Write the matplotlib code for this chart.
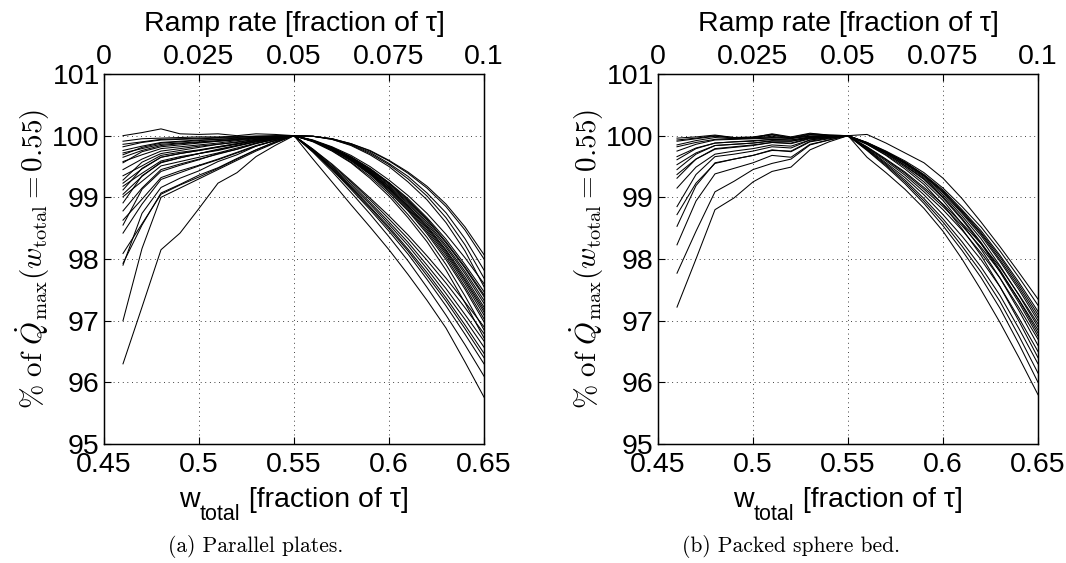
import matplotlib
matplotlib.use('Agg')
import matplotlib.pyplot as plt

plt.rcParams['font.family'] = ['Liberation Sans', 'DejaVu Sans']
plt.rcParams['mathtext.fontset'] = 'cm'

# x positions (w_total, fraction of tau)
w_total = [0.46, 0.47, 0.48, 0.49, 0.50, 0.51, 0.52, 0.53, 0.54, 0.55,
           0.56, 0.57, 0.58, 0.59, 0.60, 0.61, 0.62, 0.63, 0.64, 0.65]

# (a) parallel plates, % of Qmax(w_total = 0.55)
plates = [
    [100.0, 100.05, 100.11, 100.03, 100.02, 100.03, 100.0, 100.03, 100.02, 100.0,
     99.99, 99.95, 99.87, 99.76, 99.60, 99.41, 99.18, 98.89, 98.52, 98.07],
    [99.91, 99.95, 99.96, 99.97, 99.98, 99.98, 99.99, 99.99, 100.0, 100.0,
     99.99, 99.95, 99.87, 99.75, 99.59, 99.39, 99.15, 98.85, 98.47, 98.0],
    [99.86, 99.90, 99.94, 99.95, 99.96, 99.97, 99.98, 99.99, 99.99, 100.0,
     99.99, 99.95, 99.86, 99.73, 99.55, 99.34, 99.07, 98.75, 98.33, 97.82],
    [99.82, 99.89, 99.93, 99.94, 99.95, 99.96, 99.97, 99.99, 99.99, 100.0,
     99.99, 99.94, 99.85, 99.71, 99.53, 99.30, 99.02, 98.67, 98.23, 97.69],
    [99.76, 99.83, 99.89, 99.91, 99.93, 99.94, 99.96, 99.97, 99.99, 100.0,
     99.93, 99.82, 99.68, 99.50, 99.28, 99.03, 98.74, 98.40, 98.02, 97.6],
    [99.72, 99.79, 99.86, 99.88, 99.90, 99.92, 99.94, 99.97, 99.98, 100.0,
     99.99, 99.94, 99.84, 99.69, 99.50, 99.25, 98.96, 98.59, 98.13, 97.55],
    [99.69, 99.81, 99.88, 99.90, 99.92, 99.94, 99.95, 99.98, 99.99, 100.0,
     99.92, 99.81, 99.66, 99.47, 99.24, 98.98, 98.67, 98.32, 97.91, 97.47],
    [99.65, 99.76, 99.84, 99.87, 99.89, 99.91, 99.94, 99.96, 99.98, 100.0,
     99.92, 99.81, 99.65, 99.46, 99.23, 98.96, 98.65, 98.28, 97.87, 97.42],
    [99.58, 99.69, 99.79, 99.82, 99.85, 99.88, 99.92, 99.95, 99.97, 100.0,
     99.92, 99.80, 99.65, 99.45, 99.22, 98.94, 98.63, 98.26, 97.85, 97.39],
    [99.56, 99.74, 99.82, 99.85, 99.88, 99.91, 99.93, 99.96, 99.98, 100.0,
     99.92, 99.80, 99.64, 99.44, 99.20, 98.92, 98.60, 98.22, 97.80, 97.33],
    [99.45, 99.62, 99.75, 99.79, 99.83, 99.86, 99.90, 99.94, 99.97, 100.0,
     99.92, 99.80, 99.63, 99.43, 99.18, 98.90, 98.57, 98.19, 97.76, 97.28],
    [99.35, 99.51, 99.68, 99.73, 99.77, 99.82, 99.87, 99.92, 99.96, 100.0,
     99.92, 99.79, 99.63, 99.42, 99.17, 98.87, 98.54, 98.15, 97.71, 97.22],
    [99.28, 99.57, 99.71, 99.76, 99.81, 99.86, 99.89, 99.94, 99.97, 100.0,
     99.92, 99.79, 99.62, 99.41, 99.15, 98.86, 98.52, 98.13, 97.67, 97.18],
    [99.23, 99.46, 99.65, 99.71, 99.76, 99.81, 99.86, 99.92, 99.96, 100.0,
     99.91, 99.79, 99.61, 99.40, 99.14, 98.84, 98.50, 98.10, 97.64, 97.14],
    [99.18, 99.39, 99.59, 99.66, 99.71, 99.77, 99.84, 99.90, 99.95, 100.0,
     99.91, 99.78, 99.61, 99.39, 99.13, 98.82, 98.47, 98.07, 97.60, 97.09],
    [99.12, 99.47, 99.65, 99.71, 99.76, 99.82, 99.87, 99.93, 99.96, 100.0,
     99.91, 99.78, 99.60, 99.38, 99.11, 98.80, 98.44, 98.03, 97.55, 97.03],
    [99.05, 99.34, 99.57, 99.64, 99.71, 99.76, 99.83, 99.90, 99.95, 100.0,
     99.91, 99.77, 99.59, 99.37, 99.09, 98.78, 98.41, 97.99, 97.51, 96.98],
    [99.01, 99.26, 99.51, 99.58, 99.65, 99.72, 99.80, 99.88, 99.94, 100.0,
     99.78, 99.54, 99.27, 98.99, 98.70, 98.39, 98.05, 97.69, 97.30, 96.9],
    [98.91, 99.35, 99.56, 99.64, 99.71, 99.78, 99.84, 99.91, 99.96, 100.0,
     99.91, 99.76, 99.57, 99.34, 99.06, 98.72, 98.35, 97.91, 97.40, 96.85],
    [98.78, 99.15, 99.45, 99.54, 99.62, 99.70, 99.78, 99.87, 99.94, 100.0,
     99.78, 99.52, 99.25, 98.96, 98.65, 98.33, 97.98, 97.61, 97.21, 96.79],
    [98.63, 98.97, 99.32, 99.43, 99.52, 99.62, 99.73, 99.84, 99.92, 100.0,
     99.90, 99.75, 99.56, 99.31, 99.02, 98.67, 98.28, 97.82, 97.29, 96.72],
    [98.55, 99.13, 99.42, 99.52, 99.61, 99.71, 99.78, 99.88, 99.94, 100.0,
     99.77, 99.50, 99.22, 98.92, 98.60, 98.27, 97.90, 97.52, 97.10, 96.67],
    [98.42, 98.89, 99.29, 99.40, 99.51, 99.61, 99.72, 99.83, 99.92, 100.0,
     99.76, 99.49, 99.19, 98.89, 98.56, 98.22, 97.84, 97.44, 97.02, 96.57],
    [98.09, 98.57, 99.05, 99.20, 99.33, 99.47, 99.62, 99.77, 99.89, 100.0,
     99.75, 99.47, 99.17, 98.85, 98.52, 98.16, 97.78, 97.37, 96.93, 96.47],
    [97.93, 98.55, 99.07, 99.21, 99.36, 99.48, 99.63, 99.77, 99.90, 100.0,
     99.75, 99.46, 99.15, 98.83, 98.49, 98.13, 97.73, 97.32, 96.87, 96.4],
    [97.90, 98.74, 99.16, 99.31, 99.43, 99.58, 99.69, 99.83, 99.92, 100.0,
     99.74, 99.45, 99.13, 98.80, 98.45, 98.08, 97.67, 97.24, 96.78, 96.3],
    [97.0, 98.17, 99.0, 99.15, 99.3, 99.45, 99.6, 99.75, 99.88, 100.0,
     99.73, 99.42, 99.08, 98.73, 98.36, 97.97, 97.54, 97.09, 96.61, 96.1],
    [96.3, 97.22, 98.15, 98.42, 98.82, 99.23, 99.4, 99.66, 99.84, 100.0,
     99.62, 99.25, 98.88, 98.52, 98.15, 97.75, 97.33, 96.88, 96.33, 95.76],
]

# (b) packed sphere bed
spheres = [
    [99.96, 99.98, 100.01, 99.97, 99.97, 100.03, 99.98, 100.04, 100.01, 100.0,
     100.02, 99.88, 99.72, 99.56, 99.31, 98.98, 98.60, 98.20, 97.78, 97.35],
    [99.93, 99.96, 100.0, 99.97, 99.98, 100.02, 99.97, 100.03, 100.01, 100.0,
     99.89, 99.75, 99.59, 99.40, 99.15, 98.85, 98.52, 98.13, 97.70, 97.25],
    [99.91, 99.95, 99.99, 99.96, 99.97, 100.01, 99.96, 100.02, 100.0, 100.0,
     99.89, 99.74, 99.57, 99.37, 99.12, 98.80, 98.46, 98.06, 97.62, 97.15],
    [99.85, 99.92, 99.97, 99.95, 99.96, 99.99, 99.95, 100.01, 100.0, 100.0,
     99.88, 99.74, 99.57, 99.36, 99.10, 98.78, 98.43, 98.03, 97.58, 97.1],
    [99.82, 99.89, 99.94, 99.95, 99.96, 99.97, 99.96, 99.99, 99.99, 100.0,
     99.88, 99.73, 99.56, 99.35, 99.09, 98.76, 98.41, 97.99, 97.54, 97.05],
    [99.75, 99.86, 99.93, 99.94, 99.95, 99.96, 99.96, 99.99, 99.99, 100.0,
     99.88, 99.73, 99.55, 99.34, 99.07, 98.74, 98.38, 97.96, 97.50, 97.0],
    [99.66, 99.80, 99.88, 99.90, 99.92, 99.94, 99.93, 99.97, 99.99, 100.0,
     99.82, 99.62, 99.41, 99.16, 98.89, 98.58, 98.25, 97.87, 97.42, 96.95],
    [99.61, 99.79, 99.88, 99.90, 99.91, 99.94, 99.93, 99.98, 99.99, 100.0,
     99.88, 99.72, 99.54, 99.32, 99.04, 98.70, 98.33, 97.89, 97.41, 96.9],
    [99.53, 99.72, 99.84, 99.86, 99.88, 99.92, 99.91, 99.96, 99.98, 100.0,
     99.81, 99.61, 99.39, 99.13, 98.85, 98.54, 98.19, 97.80, 97.34, 96.85],
    [99.45, 99.70, 99.84, 99.86, 99.88, 99.91, 99.91, 99.97, 99.98, 100.0,
     99.87, 99.71, 99.52, 99.30, 99.01, 98.66, 98.27, 97.82, 97.33, 96.8],
    [99.37, 99.62, 99.78, 99.81, 99.84, 99.89, 99.87, 99.95, 99.97, 100.0,
     99.87, 99.71, 99.51, 99.29, 98.99, 98.64, 98.25, 97.79, 97.29, 96.75],
    [99.31, 99.62, 99.79, 99.82, 99.85, 99.89, 99.88, 99.96, 99.98, 100.0,
     99.80, 99.59, 99.36, 99.09, 98.80, 98.47, 98.10, 97.69, 97.21, 96.7],
    [99.15, 99.49, 99.70, 99.75, 99.79, 99.85, 99.83, 99.93, 99.97, 100.0,
     99.86, 99.69, 99.49, 99.25, 98.95, 98.57, 98.16, 97.69, 97.16, 96.6],
    [98.85, 99.37, 99.66, 99.70, 99.75, 99.82, 99.80, 99.93, 99.97, 100.0,
     99.79, 99.56, 99.32, 99.04, 98.72, 98.37, 97.99, 97.55, 97.04, 96.5],
    [98.72, 99.23, 99.55, 99.62, 99.68, 99.77, 99.74, 99.90, 99.95, 100.0,
     99.86, 99.68, 99.46, 99.21, 98.88, 98.49, 98.06, 97.55, 96.99, 96.4],
    [98.53, 99.19, 99.56, 99.62, 99.68, 99.76, 99.75, 99.91, 99.96, 100.0,
     99.78, 99.54, 99.28, 98.98, 98.65, 98.28, 97.87, 97.41, 96.87, 96.3],
    [98.23, 98.94, 99.38, 99.47, 99.56, 99.68, 99.65, 99.86, 99.93, 100.0,
     99.77, 99.52, 99.25, 98.94, 98.60, 98.21, 97.79, 97.31, 96.75, 96.15],
    [97.77, 98.45, 99.09, 99.26, 99.45, 99.55, 99.62, 99.85, 99.93, 100.0,
     99.76, 99.50, 99.22, 98.90, 98.54, 98.14, 97.70, 97.20, 96.62, 96.0],
    [97.22, 98.0, 98.8, 98.99, 99.25, 99.42, 99.49, 99.77, 99.90, 100.0,
     99.65, 99.40, 99.13, 98.82, 98.45, 98.0, 97.5, 96.97, 96.4, 95.8],
]

bottom_ticks = [0.45, 0.5, 0.55, 0.6, 0.65]
bottom_labels = ['0.45', '0.5', '0.55', '0.6', '0.65']
top_ticks = [0, 0.025, 0.05, 0.075, 0.1]
top_labels = ['0', '0.025', '0.05', '0.075', '0.1']
y_ticks = [95, 96, 97, 98, 99, 100, 101]
captions = ['(a) Parallel plates.', '(b) Packed sphere bed.']

W, H = 1066, 563
fig = plt.figure(figsize=(W / 100, H / 100), dpi=100)
renderer = fig.canvas.get_renderer()

TICK_FS = 20.5
grid_style = dict(color='k', linewidth=0.6, linestyle=(0, (1, 4.5)))


def subscript_label(cx, base_y):
    # "w_total [fraction of tau]" with a low MATLAB-style subscript
    parts = [('w', TICK_FS, 0), ('total', 15.5, 13), (' [fraction of τ]', TICK_FS, 0)]
    texts = []
    for s, fs, dy in parts:
        t = fig.text(0, 0, s, fontsize=fs, va='baseline', ha='left')
        texts.append((t, t.get_window_extent(renderer).width, dy))
    total_w = sum(w for _, w, _ in texts)
    x = cx - total_w / 2
    for t, w, dy in texts:
        t.set_position((x / W, 1 - (base_y + dy) / H))
        x += w


def draw_panel(left_px, curves, caption, cap_x):
    ax = fig.add_axes([left_px / W, (H - 444) / H, 380 / W, 370 / H])
    for c in curves:
        ax.plot(w_total, c, color='k', linewidth=0.75)
    ax.set_xlim(0.45, 0.65)
    ax.set_ylim(95, 101)
    ax.set_xticks(bottom_ticks)
    ax.set_xticklabels(bottom_labels)
    ax.set_yticks(y_ticks)
    ax.set_yticklabels([str(v) for v in y_ticks])
    ax.tick_params(direction='in', length=5, width=0.8, labelsize=TICK_FS)
    ax.tick_params(axis='x', pad=6)
    ax.tick_params(axis='y', pad=3)
    ax.grid(True, **grid_style)
    for s in ax.spines.values():
        s.set_linewidth(1.0)
    ax.set_ylabel(r'$\%\ \mathrm{of}\ \dot{Q}_{\max}(w_{\mathrm{total}}=0.55)$',
                  fontsize=21, labelpad=0)
    subscript_label(left_px + 190, 507)

    top = ax.twiny()
    top.set_xlim(0, 0.1)
    top.set_xticks(top_ticks)
    top.set_xticklabels(top_labels)
    top.tick_params(direction='in', length=5, width=0.8, labelsize=TICK_FS, pad=3)
    top.set_xlabel('Ramp rate [fraction of τ]', fontsize=TICK_FS, labelpad=9)

    fig.text(cap_x / W, 1 - 547 / H, caption, family='cmr10', fontsize=15.5,
             ha='center', va='center')
    return ax


draw_panel(104, plates, captions[0], 256)
draw_panel(658, spheres, captions[1], 791)

fig.savefig('out.png', dpi=100)
